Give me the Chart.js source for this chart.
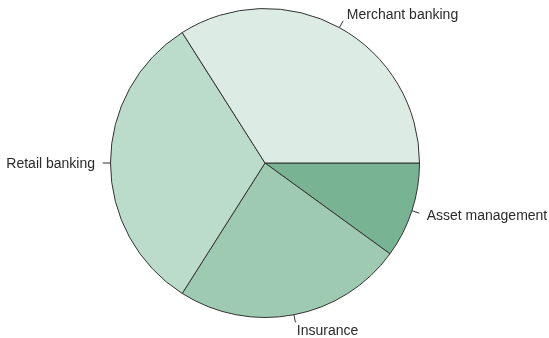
<!DOCTYPE html>
<html>
<head>
<meta charset="utf-8">
<script src="https://cdn.jsdelivr.net/npm/chart.js@4.4.1/dist/chart.umd.min.js"></script>
<style>
  html, body { margin: 0; padding: 0; background: #fff; }
</style>
</head>
<body>
<canvas id="pie-chart" width="549" height="338"></canvas>
<script>
// listed counterclockwise from 3 o'clock, like the original
var labels = ['Merchant banking', 'Retail banking', 'Insurance', 'Asset management'];
var shares = [34, 32, 24, 10];
var colors = ['#dcebe4', '#bcdccb', '#9dcab1', '#78b393'];

// chart.js goes clockwise, so feed it reversed
var cwLabels = labels.slice().reverse();
var cwShares = shares.slice().reverse();
var cwColors = colors.slice().reverse();

// labels outside the pie with a short tick, R style
var outerLabels = {
  id: 'outerLabels',
  afterDatasetsDraw: function(chart){
    var ctx = chart.ctx;
    var meta = chart.getDatasetMeta(0);
    ctx.save();
    ctx.font = '14px "Liberation Sans", Arial, sans-serif';
    ctx.fillStyle = '#2a2a2a';
    ctx.strokeStyle = '#333';
    ctx.lineWidth = 1;
    ctx.textBaseline = 'middle';
    meta.data.forEach(function(arc, i){
      var mid = (arc.startAngle + arc.endAngle) / 2;
      var r = arc.outerRadius;
      var c = Math.cos(mid), s = Math.sin(mid);
      ctx.beginPath();
      ctx.moveTo(arc.x + c * r, arc.y + s * r);
      ctx.lineTo(arc.x + c * r * 1.05, arc.y + s * r * 1.05);
      ctx.stroke();
      ctx.textAlign = c >= 0 ? 'left' : 'right';
      ctx.fillText(cwLabels[i], arc.x + c * r * 1.1, arc.y + s * r * 1.1 + 1);
    });
    ctx.restore();
  }
};

new Chart(document.getElementById('pie-chart'), {
  type: 'pie',
  data: {
    labels: cwLabels,
    datasets: [{
      data: cwShares,
      backgroundColor: cwColors,
      borderColor: '#333',
      borderWidth: 1
    }]
  },
  options: {
    responsive: false,
    animation: false,
    rotation: 90,
    layout: { padding: { top: 8, bottom: 20, left: 110, right: 129 } },
    plugins: {
      legend: { display: false },
      tooltip: { enabled: false }
    }
  },
  plugins: [outerLabels]
});
</script>
</body>
</html>
